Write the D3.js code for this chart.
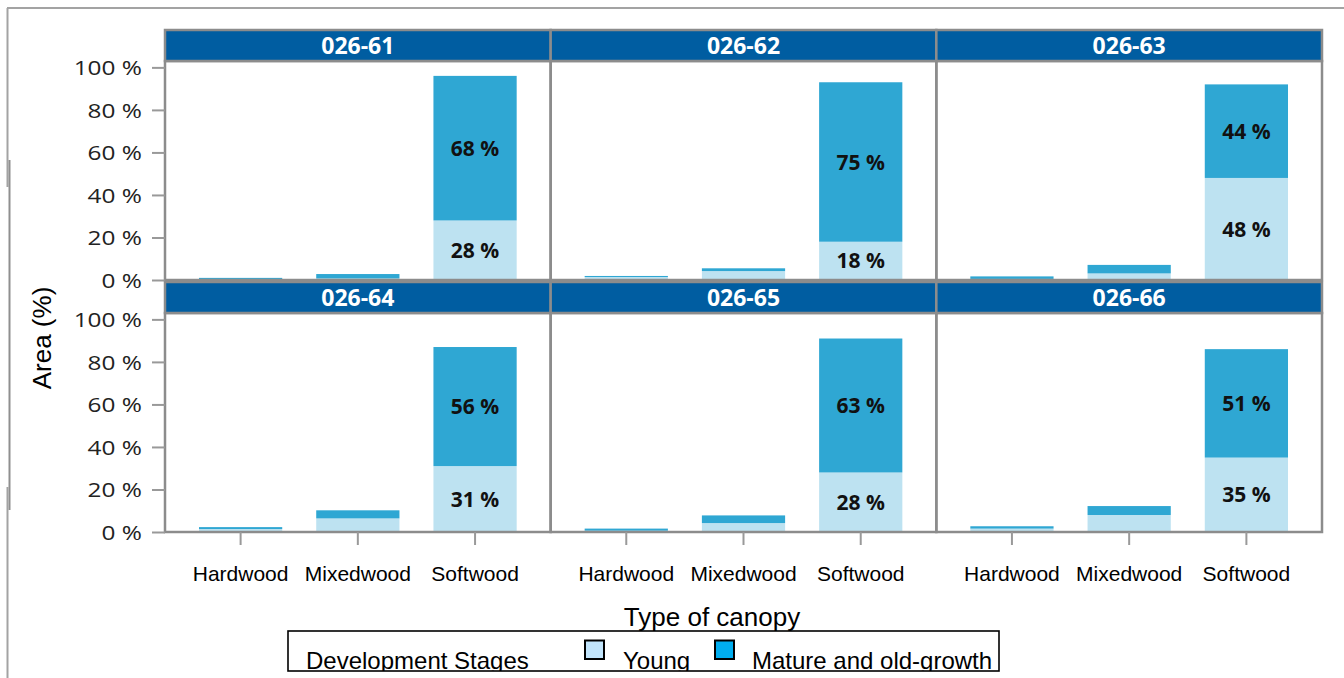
<!DOCTYPE html>
<html>
<head>
<meta charset="utf-8">
<script src="https://cdn.jsdelivr.net/npm/d3@7/dist/d3.min.js"></script>
<style>
  html, body { margin: 0; padding: 0; background: #fff; }
  svg { display: block; }
</style>
</head>
<body>
<svg id="chart" width="1344" height="678"></svg>
<script>
// Forest management units shown as small multiples
const units = ["026-61", "026-62", "026-63", "026-64", "026-65", "026-66"];
const canopyTypes = ["Hardwood", "Mixedwood", "Softwood"];

// Share of area (%) by development stage, one row per unit, columns follow canopyTypes
const youngArea = [
  [0.4, 0.7, 28],
  [1.4, 4.2, 18],
  [0.5, 3.1, 48],
  [1.4, 6.4, 31],
  [0.6, 4.2, 28],
  [1.6, 8.0, 35]
];
const matureArea = [
  [0.6, 2.1, 68],
  [0.5, 1.3, 75],
  [1.2, 4.0, 44],
  [0.9, 3.8, 56],
  [1.0, 3.6, 63],
  [1.1, 4.2, 51]
];

const yTickValues = [0, 20, 40, 60, 80, 100];
const stageKeys = ["young", "mature"];
const stageLabels = ["Young", "Mature and old-growth"];
const legendTitle = "Development Stages";
const xTitle = "Type of canopy";
const yTitle = "Area (%)";

// Styling
const barColors = { young: "#bde2f1", mature: "#2fa7d3" };
const legendColors = { young: "#c1e4fb", mature: "#00adef" };
const stripColor = "#005da1";
const frameColor = "#8c8c8c";
const labelMin = 10; // segments at least this large carry a value label

const svg = d3.select("#chart");

// Figure outline
const outline = svg.append("g").attr("stroke", "#a3a3a3").attr("stroke-width", 2);
outline.append("line").attr("x1", 7).attr("x2", 1344).attr("y1", 8).attr("y2", 8);
outline.append("line").attr("x1", 7.5).attr("x2", 7.5).attr("y1", 8).attr("y2", 187);
outline.append("line").attr("x1", 9.5).attr("x2", 9.5).attr("y1", 160).attr("y2", 510).attr("stroke", "#8f8f8f");
outline.append("line").attr("x1", 7.5).attr("x2", 7.5).attr("y1", 487).attr("y2", 678);

// Panel grid geometry
const gridLeft = 165, gridRight = 1322;
const colW = (gridRight - gridLeft) / 3;
const stripTop = [30, 282];
const stripH = 31;
const plotBottom = [280, 532];

const stack = d3.stack().keys(stageKeys);

units.forEach((unit, i) => {
  const col = i % 3, row = Math.floor(i / 3);
  const x0 = gridLeft + col * colW;
  const top = stripTop[row] + stripH;
  const bottom = plotBottom[row];

  const x = d3.scaleBand()
    .domain(canopyTypes)
    .range([x0, x0 + colW])
    .paddingInner(0.29)
    .paddingOuter(0.29);
  const y = d3.scaleLinear().domain([0, 103]).range([bottom, top]);

  const rows = canopyTypes.map((c, j) => ({
    canopy: c,
    young: youngArea[i][j],
    mature: matureArea[i][j]
  }));
  const series = stack(rows);

  const g = svg.append("g");

  // Stacked bars
  series.forEach(s => {
    g.append("g").selectAll("rect")
      .data(s)
      .join("rect")
      .attr("x", d => x(d.data.canopy))
      .attr("width", x.bandwidth())
      .attr("y", d => y(d[1]))
      .attr("height", d => y(d[0]) - y(d[1]))
      .attr("fill", barColors[s.key]);
  });

  // Value labels inside the large segments
  series.forEach(s => {
    g.append("g").selectAll("text")
      .data(s.filter(d => d[1] - d[0] >= labelMin))
      .join("text")
      .attr("x", d => x(d.data.canopy) + x.bandwidth() / 2)
      .attr("y", d => (y(d[0]) + y(d[1])) / 2)
      .attr("dy", "0.36em")
      .attr("text-anchor", "middle")
      .attr("font-family", "'Open Sans', 'Noto Sans', sans-serif")
      .attr("font-weight", 700)
      .attr("font-size", 21)
      .attr("fill", "#111")
      .text(d => Math.round(d[1] - d[0]) + " %");
  });

  // Panel frame
  g.append("rect")
    .attr("x", x0).attr("y", top)
    .attr("width", colW).attr("height", bottom - top)
    .attr("fill", "none")
    .attr("stroke", frameColor)
    .attr("stroke-width", 2.5);

  // Strip with unit name
  g.append("rect")
    .attr("x", x0).attr("y", stripTop[row])
    .attr("width", colW).attr("height", stripH)
    .attr("fill", stripColor)
    .attr("stroke", frameColor)
    .attr("stroke-width", 2.5);
  g.append("text")
    .attr("x", x0 + colW / 2)
    .attr("y", stripTop[row] + stripH / 2)
    .attr("dy", "0.36em")
    .attr("text-anchor", "middle")
    .attr("font-family", "'Open Sans', 'Noto Sans', sans-serif")
    .attr("font-weight", 700)
    .attr("font-size", 23)
    .attr("fill", "#fff")
    .text(unit);

  // Y axis on the first column
  if (col === 0) {
    const ya = svg.append("g")
      .attr("transform", `translate(${x0},0)`)
      .call(d3.axisLeft(y).tickValues(yTickValues).tickSize(13).tickFormat(d => d + " %"));
    ya.select(".domain").remove();
    ya.selectAll(".tick line").attr("stroke", "#999").attr("stroke-width", 2);
    ya.selectAll(".tick text")
      .attr("font-family", "'Open Sans', 'Noto Sans', sans-serif")
      .attr("font-size", 20)
      .attr("fill", "#222")
      .attr("x", -23 / 1.22)
      .attr("dy", "0.36em")
      .attr("transform", "scale(1.22,1)");
  }

  // Category axis under the bottom row
  if (row === 1) {
    const xa = svg.append("g")
      .attr("transform", `translate(0,${bottom})`)
      .call(d3.axisBottom(x).tickSize(13));
    xa.select(".domain").remove();
    xa.selectAll(".tick line").attr("stroke", "#999").attr("stroke-width", 2);
    xa.selectAll(".tick text")
      .attr("font-family", "'Liberation Sans', Arial, sans-serif")
      .attr("font-size", 21)
      .attr("fill", "#000")
      .attr("y", 49)
      .attr("dy", null);
  }
});

// Axis titles
svg.append("text")
  .attr("x", 712).attr("y", 626)
  .attr("text-anchor", "middle")
  .attr("font-family", "'Liberation Sans', Arial, sans-serif")
  .attr("font-size", 26)
  .attr("fill", "#000")
  .text(xTitle);

svg.append("text")
  .attr("transform", "translate(51,338) rotate(-90)")
  .attr("text-anchor", "middle")
  .attr("font-family", "'Liberation Sans', Arial, sans-serif")
  .attr("font-size", 26)
  .attr("fill", "#000")
  .text(yTitle);

// Legend (content clipped to its box)
const lx = 288, ly = 631, lw = 711, lh = 40;
svg.append("clipPath").attr("id", "legend-clip")
  .append("rect").attr("x", lx).attr("y", ly).attr("width", lw).attr("height", lh);
const legend = svg.append("g");
const legendBody = legend.append("g").attr("clip-path", "url(#legend-clip)");
const legendFont = "'Liberation Sans', Arial, sans-serif";
legendBody.append("text")
  .attr("x", 306).attr("y", 669)
  .attr("font-family", legendFont).attr("font-size", 24).attr("fill", "#000")
  .text(legendTitle);
const swatchX = [585, 715];
const labelX = [623, 752];
stageKeys.forEach((k, j) => {
  legendBody.append("rect")
    .attr("x", swatchX[j]).attr("y", 640.5)
    .attr("width", 19).attr("height", 18.5)
    .attr("fill", legendColors[k])
    .attr("stroke", "#000")
    .attr("stroke-width", 2);
  legendBody.append("text")
    .attr("x", labelX[j]).attr("y", 669)
    .attr("font-family", legendFont).attr("font-size", 24).attr("fill", "#000")
    .text(stageLabels[j]);
});
legend.append("rect")
  .attr("x", lx).attr("y", ly).attr("width", lw).attr("height", lh)
  .attr("fill", "none").attr("stroke", "#000").attr("stroke-width", 1.6);
</script>
</body>
</html>
